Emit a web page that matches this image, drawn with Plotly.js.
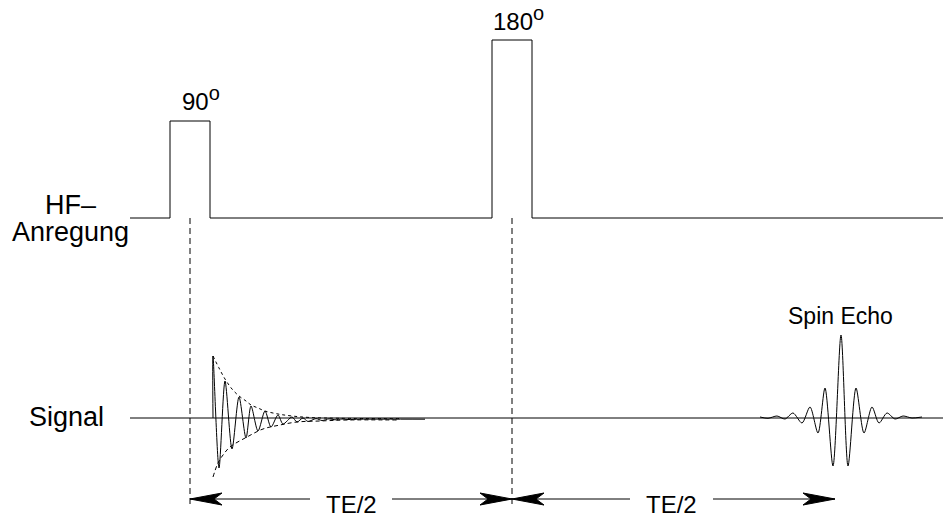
<!DOCTYPE html>
<html>
<head>
<meta charset="utf-8">
<script src="https://cdn.plot.ly/plotly-3.0.1.min.js"></script>
<style>html,body{margin:0;padding:0;background:#fff;}#chart{width:943px;height:517px;}</style>
</head>
<body>
<div id="chart"></div>
<script>
// ---- Data (schematic units; x = time, y = level) ----
// RF pulses
const pulseLabels = ['90<sup><span style="font-size:20px">o</span></sup>', '180<sup><span style="font-size:20px">o</span></sup>'];
const pulseStart  = [170, 492];
const pulseEnd    = [210, 532];
const pulseTop    = [121, 40];

// FID after the 90° pulse (extrema, in time / level)
const fidX = [213, 213, 219, 225, 232, 239, 246, 251, 258, 265, 271, 278, 283, 292, 297, 303, 308, 316, 322, 329, 335, 342, 348, 360, 425];
const fidY = [418, 356, 468, 381, 449, 397, 438, 406, 431, 411, 427, 415, 424, 417, 422, 418, 421.5, 418.6, 420.5, 418.8, 419.8, 419, 419.5, 419.2, 419.2];

// FID envelopes
const envUpX = [213, 219, 225, 232, 239, 246, 251, 258, 265, 278, 292, 310, 340, 400];
const envUpY = [356, 368, 379, 389, 396, 401, 405, 408, 411, 414, 416, 417.5, 418.3, 418.6];
const envLoX = [213, 218, 223, 230, 247, 263, 280, 297, 320, 347, 397];
const envLoY = [477, 463, 455, 447, 437, 429, 425, 422, 421, 420, 420];

// Spin echo (extrema)
const echoX = [760, 768, 777, 785, 793, 802, 810, 818, 825, 833, 841, 848, 856, 864, 872, 879, 887, 895, 903, 912, 922];
const echoY = [417, 418.3, 416, 419, 413, 423, 407, 433, 388, 466, 335, 466, 388, 433, 407, 423, 413, 419, 416, 418, 417];

// Time intervals (TE/2 arrows)
const intervalStart = [190, 512];
const intervalEnd   = [512, 835];
const intervalLabel = ['TE/2', 'TE/2'];
const intervalGap   = [[310, 392], [630, 713]];

// Row labels
const rowLabels = ['HF–', 'Anregung', 'Signal'];

// ---- Layout constants ----
const X0 = 130, X1 = 943;
const hfBase = 218, sigBase = 418;
const dashBottom = 505;
const arrowY = 499;
const FONT = '"Liberation Sans", Arial, Helvetica, sans-serif';
const line = {color: '#000', width: 1};

const traces = [];

// HF line with pulses
const hx = [X0], hy = [hfBase];
for (let i = 0; i < pulseStart.length; i++) {
  hx.push(pulseStart[i], pulseStart[i], pulseEnd[i], pulseEnd[i]);
  hy.push(hfBase, pulseTop[i], pulseTop[i], hfBase);
}
hx.push(X1); hy.push(hfBase);
traces.push({x: hx, y: hy, mode: 'lines', line: line, hoverinfo: 'skip'});

// Signal baseline
traces.push({x: [X0, X1], y: [sigBase, sigBase], mode: 'lines', line: line, hoverinfo: 'skip'});

// Dashed vertical markers at pulse centres
for (let i = 0; i < pulseStart.length; i++) {
  const c = (pulseStart[i] + pulseEnd[i]) / 2;
  traces.push({x: [c, c], y: [hfBase, dashBottom], mode: 'lines',
    line: {color: '#000', width: 1, dash: '6px,4px'}, hoverinfo: 'skip'});
}

// FID
traces.push({x: fidX, y: fidY, mode: 'lines', line: {color: '#000', width: 1, shape: 'spline', smoothing: 0.8}, hoverinfo: 'skip'});
traces.push({x: envUpX, y: envUpY, mode: 'lines', line: {color: '#000', width: 1, dash: 'dot', shape: 'spline'}, hoverinfo: 'skip'});
traces.push({x: envLoX, y: envLoY, mode: 'lines', line: {color: '#000', width: 1, dash: '4px,3px', shape: 'spline'}, hoverinfo: 'skip'});

// Echo
traces.push({x: echoX, y: echoY, mode: 'lines', line: {color: '#000', width: 1, shape: 'spline', smoothing: 0.8}, hoverinfo: 'skip'});

// Arrows
function head(tip, dir) { // dir: -1 pointing left, +1 pointing right
  const L = 32, W = 6, N = 24;
  return {x: [tip, tip - dir * L, tip - dir * N, tip - dir * L, tip],
          y: [arrowY, arrowY - W, arrowY, arrowY + W, arrowY],
          mode: 'lines', fill: 'toself', fillcolor: '#000', line: {color: '#000', width: 1}, hoverinfo: 'skip'};
}
for (let i = 0; i < intervalStart.length; i++) {
  traces.push({x: [intervalStart[i], intervalGap[i][0], null, intervalGap[i][1], intervalEnd[i]],
               y: [arrowY, arrowY, null, arrowY, arrowY], mode: 'lines', line: line, hoverinfo: 'skip'});
  traces.push(head(intervalStart[i], -1));
  traces.push(head(intervalEnd[i], 1));
}

// Annotations
const ann = [];
function txt(text, x, y, size, yanchor, xanchor) {
  ann.push({text: text, x: x, y: y, xref: 'x', yref: 'y', showarrow: false,
    xanchor: xanchor || 'center', yanchor: yanchor || 'middle',
    font: {family: FONT, size: size, color: '#000'}});
}
txt(pulseLabels[0], 201, 117, 24, 'bottom');
txt(pulseLabels[1], 518, 37, 24, 'bottom');
txt('Spin Echo', 840, 331, 23, 'bottom');
for (let i = 0; i < intervalLabel.length; i++) {
  txt(intervalLabel[i], (intervalGap[i][0] + intervalGap[i][1]) / 2, 504, 24, 'middle');
}
txt(rowLabels[0], 70, 222, 27, 'bottom');
txt(rowLabels[1], 70, 249, 27, 'bottom');
txt(rowLabels[2], 66, 417, 27, 'middle');

const layout = {
  width: 943, height: 517,
  margin: {l: 0, r: 0, t: 0, b: 0, pad: 0},
  paper_bgcolor: '#fff', plot_bgcolor: '#fff',
  showlegend: false,
  xaxis: {range: [0, 943], visible: false, fixedrange: true},
  yaxis: {range: [517, 0], visible: false, fixedrange: true},
  annotations: ann
};
Plotly.newPlot('chart', traces, layout, {staticPlot: true, displayModeBar: false});
</script>
</body>
</html>
